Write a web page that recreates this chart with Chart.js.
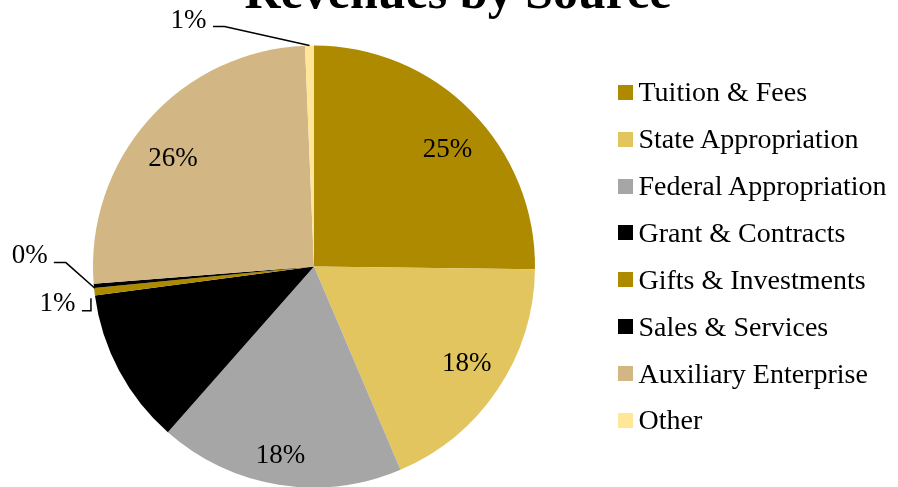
<!DOCTYPE html>
<html><head><meta charset="utf-8">
<script src="https://cdn.jsdelivr.net/npm/chart.js@4/dist/chart.umd.min.js"></script>
<style>
html,body{margin:0;padding:0;width:898px;height:487px;overflow:hidden;background:#fff;}
#wrap{position:relative;width:898px;height:487px;overflow:hidden;}
#c{position:absolute;left:0;top:0;}
#title{position:absolute;left:0;width:916px;top:-34px;text-align:center;font:bold 50px "Liberation Serif";line-height:50px;white-space:nowrap;color:#000;}
#legend{position:absolute;left:617.5px;top:68.8px;font:28px "Liberation Serif";color:#000;}
.row{display:flex;align-items:center;height:46.9px;white-space:nowrap;}
.box{width:15px;height:15px;margin-right:6px;flex:none;}
</style></head><body>
<div id="wrap"><canvas id="c" width="898" height="520"></canvas><div id="title">Revenues by Source</div><div id="legend"></div></div>
<script>
const categories = ["Tuition & Fees","State Appropriation","Federal Appropriation","Grant & Contracts","Gifts & Investments","Sales & Services","Auxiliary Enterprise","Other"];
const values = [25.2, 18.4, 17.9, 11.4, 0.55, 0.3, 25.6, 0.65];
const colors = ["#AD8A00","#E2C55E","#A6A6A6","#000000","#AD8A00","#000000","#D2B784","#FFE699"];

// legend (HTML)
const lg = document.getElementById('legend');
categories.forEach((c,i)=>{
  const r = document.createElement('div'); r.className='row';
  const b = document.createElement('div'); b.className='box'; b.style.background=colors[i];
  const t = document.createElement('span'); t.textContent=c;
  r.appendChild(b); r.appendChild(t); lg.appendChild(r);
});

// leader-line label layout for the thin slices, relative to the slice's outer edge point
const outsideLabels = {
  4: {path:[[-3.5,6.5],[-3.5,19],[-12.5,19]], text:[-19,12.5]},
  5: {path:[[1,2.3],[-28,-23.3],[-40,-23.3]], text:[-46,-30]},
  7: {path:[[0,0],[-85,-19],[-96.5,-19]], text:[-103,-25]}
};
// small nudges of the inside labels (best-fit placement)
const insideShift = {0:[6,9], 1:[4,-2], 2:[-5,13], 6:[-7,11]};

const labelPlugin = {
  id:'pieLabels',
  afterDatasetsDraw(chart){
    const ctx = chart.ctx;
    const meta = chart.getDatasetMeta(0);
    const total = values.reduce((a,b)=>a+b,0);
    ctx.save();
    ctx.font = '27px "Liberation Serif"';
    ctx.fillStyle = '#000';
    ctx.strokeStyle = '#000';
    ctx.lineWidth = 1.5;
    meta.data.forEach((arc,i)=>{
      const p = arc.getProps(['x','y','startAngle','endAngle','outerRadius'], true);
      const mid = (p.startAngle+p.endAngle)/2;
      const txt = Math.round(values[i]/total*100) + '%';
      if (outsideLabels[i]) {
        const ex = p.x + Math.cos(mid)*p.outerRadius;
        const ey = p.y + Math.sin(mid)*p.outerRadius;
        const o = outsideLabels[i];
        ctx.beginPath();
        o.path.forEach((pt,k)=>{ if(k===0) ctx.moveTo(ex+pt[0],ey+pt[1]); else ctx.lineTo(ex+pt[0],ey+pt[1]); });
        ctx.stroke();
        ctx.textAlign='right'; ctx.textBaseline='middle';
        ctx.fillText(txt, ex+o.text[0], ey+o.text[1]);
      } else {
        const r = p.outerRadius*0.81;
        const s = insideShift[i] || [0,0];
        ctx.textAlign='center'; ctx.textBaseline='middle';
        ctx.fillText(txt, p.x+Math.cos(mid)*r+s[0], p.y+Math.sin(mid)*r+s[1]);
      }
    });
    ctx.restore();
  }
};

new Chart(document.getElementById('c'), {
  type:'pie',
  data:{labels:categories, datasets:[{data:values, backgroundColor:colors, borderWidth:0}]},
  options:{
    responsive:false, animation:false, devicePixelRatio:1,
    layout:{padding:{left:93,right:363,top:45.5,bottom:32.5}},
    plugins:{legend:{display:false}, tooltip:{enabled:false}, title:{display:false}}
  },
  plugins:[labelPlugin]
});
</script>
</body></html>
